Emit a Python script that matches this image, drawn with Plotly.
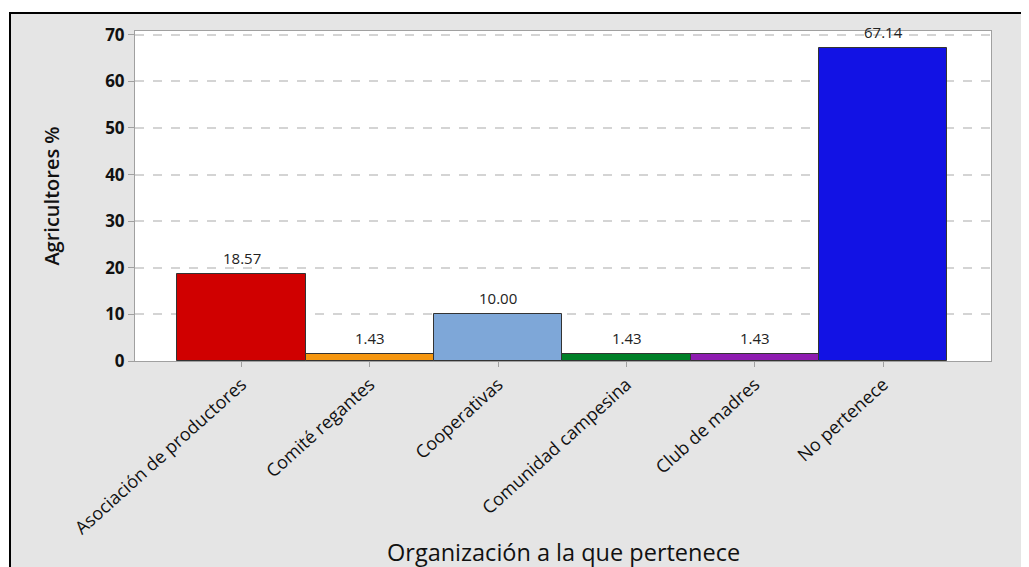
import plotly.graph_objects as go

categories = ["Asociación de productores", "Comité regantes", "Cooperativas",
              "Comunidad campesina", "Club de madres", "No pertenece"]
values = [18.57, 1.43, 10.00, 1.43, 1.43, 67.14]
labels = ["18.57", "1.43", "10.00", "1.43", "1.43", "67.14"]
colors = ["#d00000", "#f5960f", "#7ea7d8", "#008028", "#8e1cb0", "#1212e4"]
y_ticks = [0, 10, 20, 30, 40, 50, 60, 70]
x_title = "Organización a la que pertenece"
y_title = "Agricultores %"

# page body has an 8px margin, so figure pixel = screen pixel - OFF
OFF = 8
W, H = 1029, 567
sL, sR, sT, sB = 135, 991, 31, 361          # plot area in screen pixels
L, T = sL - OFF, sT - OFF
R = W - (sR - OFF)
B = H - (sB - OFF)
pw, ph = W - L - R, H - T - B

FONT = "Open Sans, Segoe UI, sans-serif"
xs = list(range(len(categories)))

fig = go.Figure()
fig.add_trace(go.Bar(
    x=xs, y=values,
    width=1.0,
    marker=dict(color=colors, line=dict(color="#333333", width=1)),
    hoverinfo="skip",
))

for xi, v, lab in zip(xs, values, labels):
    fig.add_annotation(x=xi, y=v, text=lab, showarrow=False, yanchor="bottom",
                       yshift=4, font=dict(family=FONT, size=15, color="#222222"))

def px_x(p):  # screen px -> paper
    return (p - OFF - L) / pw

def px_y(p):
    return (H - B - (p - OFF)) / ph

# x-axis title
fig.add_annotation(xref="paper", yref="paper", x=0.5, y=px_y(552), text=x_title,
                   showarrow=False, xanchor="center", yanchor="middle",
                   font=dict(family=FONT, size=23.5, color="#111111"))

shapes = [
    dict(type="rect", xref="paper", yref="paper", x0=px_x(-20), x1=px_x(W + 20),
         y0=px_y(13), y1=px_y(-20), fillcolor="white", line=dict(width=0), layer="below"),
    dict(type="rect", xref="paper", yref="paper", x0=px_x(-20), x1=px_x(10),
         y0=px_y(H + 20), y1=px_y(-20), fillcolor="white", line=dict(width=0), layer="below"),
    dict(type="line", xref="paper", yref="paper", x0=px_x(9), x1=px_x(W + 20),
         y0=px_y(13), y1=px_y(13), line=dict(color="black", width=2)),
    dict(type="line", xref="paper", yref="paper", x0=px_x(10), x1=px_x(10),
         y0=px_y(12), y1=px_y(H + 20), line=dict(color="black", width=2)),
]

fig.update_layout(
    width=W, height=H,
    margin=dict(l=L, r=R, t=T, b=B, pad=0, autoexpand=False),
    paper_bgcolor="#e5e5e5", plot_bgcolor="white",
    showlegend=False, bargap=0,
    shapes=shapes,
    font=dict(family=FONT, color="black"),
    xaxis=dict(
        range=[-0.83, 5.84], automargin=False,
        tickmode="array", tickvals=xs, ticktext=categories,
        tickangle=-42, ticks="outside", ticklen=5, tickcolor="#a0a0a0",
        tickfont=dict(family=FONT, size=18, color="#111111"),
        showline=True, linecolor="#a0a0a0", linewidth=1, mirror=True,
        showgrid=False, zeroline=False,
    ),
    yaxis=dict(
        range=[0, 70.8], automargin=False,
        tickmode="array", tickvals=y_ticks,
        ticks="outside", ticklen=6, tickcolor="#a0a0a0",
        tickfont=dict(family="Open Sans, sans-serif", size=17, color="#111111", weight="bold"),
        showline=True, linecolor="#a0a0a0", linewidth=1, mirror=True,
        showgrid=True, gridcolor="#d4d4d4", griddash="dash", gridwidth=1.5,
        zeroline=False,
        title=dict(text=y_title,
                   font=dict(family=FONT, size=20, color="#111111", weight=600), standoff=40),
    ),
)

fig.write_html("out.html")
